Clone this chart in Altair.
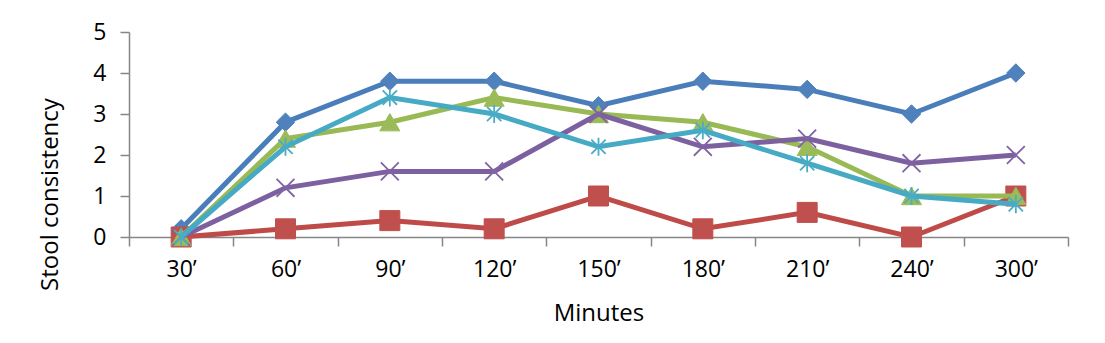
import altair as alt
import pandas as pd

minutes = ["30’", "60’", "90’", "120’", "150’", "180’", "210’", "240’", "300’"]
series_names = ["S1", "S2", "S3", "S4", "S5"]
s1 = [0.2, 2.8, 3.8, 3.8, 3.2, 3.8, 3.6, 3.0, 4.0]
s2 = [0.0, 0.2, 0.4, 0.2, 1.0, 0.2, 0.6, 0.0, 1.0]
s3 = [0.0, 2.4, 2.8, 3.4, 3.0, 2.8, 2.2, 1.0, 1.0]
s4 = [0.0, 1.2, 1.6, 1.6, 3.0, 2.2, 2.4, 1.8, 2.0]
s5 = [0.0, 2.2, 3.4, 3.0, 2.2, 2.6, 1.8, 1.0, 0.8]
series_values = [s1, s2, s3, s4, s5]
y_ticks = [0, 1, 2, 3, 4, 5]

line_colors = ["#4A7EBB", "#BE4B48", "#98B954", "#7D60A0", "#46AAC5"]
fill_colors = ["#4F81BD", "#C0504D", "#9BBB59", "#8064A2", "#4BACC6"]
X_PATH = "M-1,-1L1,1M-1,1L1,-1"
STAR_PATH = "M0,-1L0,1M-0.8,-0.8L0.8,0.8M-0.8,0.8L0.8,-0.8"
shapes = ["diamond", "square", "triangle-up", X_PATH, STAR_PATH]
sizes = [340, 400, 400, 320, 320]
filled = [True, True, True, False, False]

FONT = "Open Sans"

x_enc = alt.X(
    "minute:N",
    sort=minutes,
    scale=alt.Scale(type="band", paddingInner=0, paddingOuter=0),
    axis=alt.Axis(
        title="Minutes", labelAngle=0, tickBand="extent", tickSize=9,
        labelPadding=12, titleY=83, titleBaseline="alphabetic",
        titleFontSize=24, labelFontSize=23,
    ),
)
y_enc = alt.Y(
    "value:Q",
    scale=alt.Scale(domain=[0, 5], nice=False, zero=True),
    axis=alt.Axis(
        title="Stool consistency", values=y_ticks, grid=False, tickSize=9,
        labelPadding=14, titleX=-72, titleY=162, titleAlign="center",
        titleBaseline="alphabetic", titleAngle=-90,
        titleFontSize=24, labelFontSize=23,
    ),
)

layers = []
for name, vals, lc, fc, shp, sz, fl in zip(series_names, series_values, line_colors,
                                           fill_colors, shapes, sizes, filled):
    df = pd.DataFrame({"minute": minutes, "value": vals, "series": name})
    base = alt.Chart(df)
    layers.append(base.mark_line(color=lc, strokeWidth=5).encode(x=x_enc, y=y_enc))
    if fl:
        pt = base.mark_point(shape=shp, filled=True, fill=fc, stroke=fc,
                             strokeWidth=1, size=sz, opacity=1)
    else:
        pt = base.mark_point(shape=shp, filled=False, stroke=fc,
                             strokeWidth=1.8, size=sz, opacity=1)
    layers.append(pt.encode(x=x_enc, y=y_enc))

chart = alt.layer(*layers).properties(
    width=939, height=205,
    autosize=alt.AutoSizeParams(type="none"),
    padding={"left": 129, "top": 32, "right": 37, "bottom": 106},
    background="white",
).configure_view(stroke=None).configure_axis(
    domainColor="#868686", tickColor="#868686", domainWidth=1.5, tickWidth=1.5,
    labelColor="black", titleColor="black", labelFont=FONT, titleFont=FONT,
    titleFontWeight="normal",
)

chart.save("out.html", embed_options={"renderer": "svg", "actions": False})
